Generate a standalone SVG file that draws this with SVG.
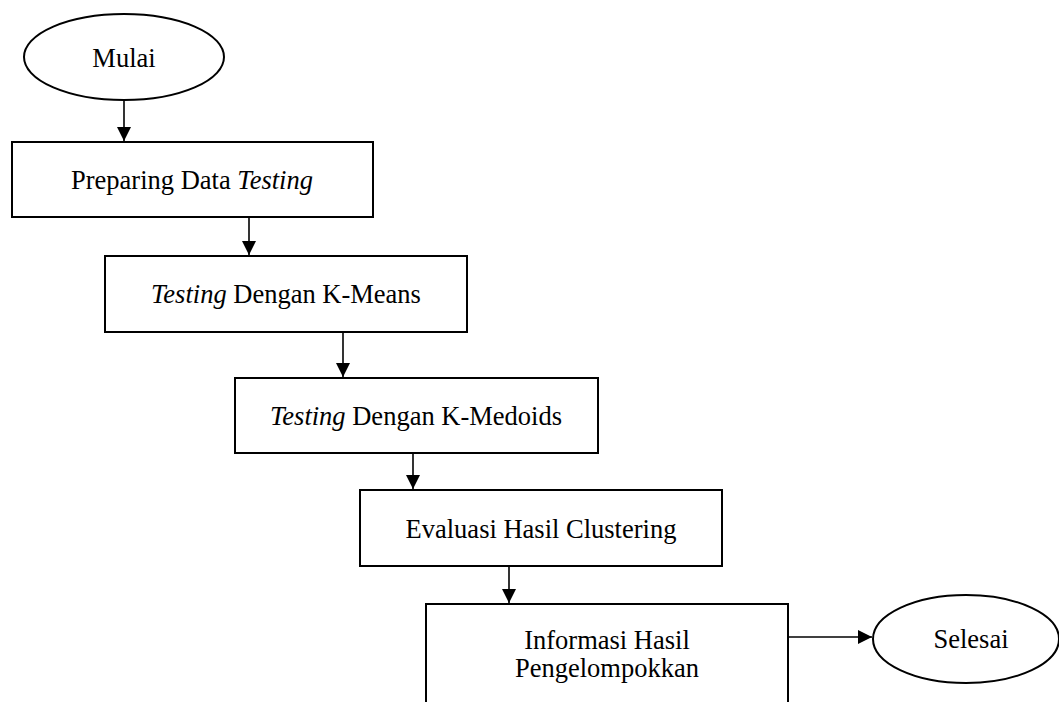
<svg xmlns="http://www.w3.org/2000/svg" width="1059" height="702" viewBox="0 0 1059 702">
<style>
.shape{fill:#fff;stroke:#000;stroke-width:2}
.t{font-family:"Liberation Serif","Times New Roman",serif;font-size:26.5px;fill:#000;text-anchor:middle}
.i{font-style:italic}
.c{stroke:#000;stroke-width:1.6;fill:none;marker-end:url(#ah)}
</style>
<defs>
<marker id="ah" viewBox="0 0 10 10" refX="10" refY="5" markerWidth="14" markerHeight="14" markerUnits="userSpaceOnUse" orient="auto">
<path d="M0,0 L10,5 L0,10 z" fill="#000"/>
</marker>
</defs>
<rect width="1059" height="702" fill="#fff"/>
<g id="connectors">
<line class="c" x1="124" y1="100" x2="124" y2="141"/>
<line class="c" x1="249" y1="217" x2="249" y2="255"/>
<line class="c" x1="343" y1="332" x2="343" y2="377"/>
<line class="c" x1="413" y1="453" x2="413" y2="489"/>
<line class="c" x1="509" y1="566" x2="509" y2="603"/>
<line class="c" x1="788" y1="637" x2="872" y2="637"/>
</g>
<g id="mulai">
<ellipse class="shape" cx="124" cy="57" rx="100" ry="43"/>
<text class="t" x="124" y="67">Mulai</text>
</g>
<g id="preparing">
<rect class="shape" x="12" y="142" width="361" height="75"/>
<text class="t" x="192" y="189">Preparing Data <tspan class="i">Testing</tspan></text>
</g>
<g id="kmeans">
<rect class="shape" x="105" y="256" width="362" height="76"/>
<text class="t" x="286" y="303"><tspan class="i">Testing</tspan> Dengan K-Means</text>
</g>
<g id="kmedoids">
<rect class="shape" x="235" y="378" width="363" height="75"/>
<text class="t" x="416" y="425"><tspan class="i">Testing</tspan> Dengan K-Medoids</text>
</g>
<g id="evaluasi">
<rect class="shape" x="360" y="490" width="362" height="76"/>
<text class="t" x="541" y="538">Evaluasi Hasil Clustering</text>
</g>
<g id="informasi">
<rect class="shape" x="426" y="604" width="362" height="110"/>
<text class="t" x="607" y="649">Informasi Hasil</text>
<text class="t" x="607" y="677">Pengelompokkan</text>
</g>
<g id="selesai">
<ellipse class="shape" cx="966" cy="639" rx="93" ry="44"/>
<text class="t" x="971" y="648">Selesai</text>
</g>
</svg>
